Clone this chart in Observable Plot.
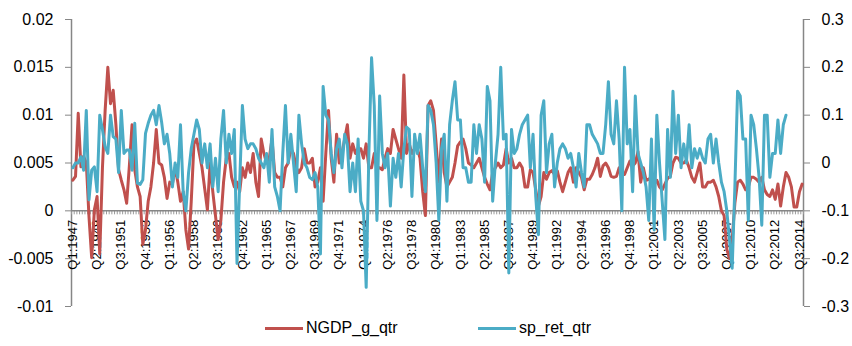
<!DOCTYPE html>
<html><head><meta charset="utf-8">
<script src="https://cdn.jsdelivr.net/npm/d3@7"></script>
<script src="https://cdn.jsdelivr.net/npm/@observablehq/plot@0.6"></script>
<style>
body{margin:0;background:#fff;font-family:"Liberation Sans",Arial,sans-serif;}
#legend{position:relative;height:30px;width:852px;font-size:16px;color:#000}
.item{position:absolute;top:0;display:flex;align-items:center;height:24px;white-space:nowrap}
.sw{display:inline-block;width:38px;height:3px;margin-right:3px}
</style></head><body><div id="chart"></div><div id="legend"></div>
<script>
// ---- data ----
const seriesNames = ["NGDP_g_qtr", "sp_ret_qtr"];
const ngdp = [
0.0032,0.0036,0.0102,0.0046,0.0057,0.005,-0.0006,-0.0049,0.0001,0.0015,
-0.0045,0.0045,0.0105,0.015,0.0112,0.0126,0.009,0.0043,0.0032,0.0022,
0.0008,0.0047,0.009,0.0043,0.0025,0.0015,-0.0035,-0.002,0.001,0.0025,
0.005,0.0085,0.005,0.0048,0.0035,0.0013,0.003,0.0028,0.0045,0.003,
0.001,0.002,-0.002,-0.004,0.001,0.007,0.0075,0.006,0.0045,0.0023,
0.0001,0.005,0.002,-0.0005,-0.003,-0.001,0.003,0.0055,0.006,0.0035,
0.0025,0.003,0.002,0.0045,0.0035,0.005,0.004,0.006,0.003,0.0015,
0.0075,0.006,0.005,0.0055,0.0075,0.004,0.0035,0.0035,0.0025,0.0045,
0.005,0.0065,0.006,0.0045,0.004,0.0045,0.0065,0.005,0.005,0.0055,
0.0025,0.003,0.0045,0.001,0.006,0.0105,0.0055,0.003,0.008,0.005,
0.006,0.0075,0.009,0.0055,0.007,0.006,0.0065,0.0065,0.0055,0.007,
0.0045,0.0045,0.006,0.0045,0.0045,0.0043,0.0055,0.0065,0.006,0.0085,
0.0075,0.0065,0.0055,0.0142,0.006,0.007,0.006,0.0065,0.0065,0.0055,
0.002,-0.0005,0.011,0.0115,0.0105,0.007,0.003,0.0075,0.004,0.0025,
0.003,0.0035,0.005,0.0068,0.0072,0.0075,0.0065,0.005,0.0048,0.0045,
0.005,0.0055,0.0045,0.0035,0.0028,0.0022,0.004,0.0045,0.005,0.0045,
0.0048,0.0065,0.005,0.0055,0.0045,0.0045,0.005,0.0045,0.0025,0.0025,
0.0043,0.004,0.0022,0.0005,0.0015,0.004,0.0033,0.004,0.0042,0.0038,
0.0042,0.003,0.002,0.003,0.004,0.0045,0.003,0.0045,0.004,0.0035,
0.0022,0.0033,0.0033,0.0038,0.0045,0.0055,0.0036,0.0047,0.005,0.0045,
0.0036,0.0035,0.0036,0.0045,0.004,0.0038,0.0045,0.0052,0.0047,0.005,
0.0062,0.003,0.0045,0.0032,0.0033,0.0035,0.0028,0.0032,0.0025,0.0022,
0.0028,0.0034,0.0036,0.005,0.0056,0.0055,0.005,0.005,0.0053,0.0045,
0.0035,0.003,0.004,0.005,0.0025,0.0025,0.003,0.003,0.0032,0.0025,
0.0015,0.0,-0.0005,-0.004,-0.005,-0.003,0.0008,0.003,0.0032,0.0028,
0.0022,0.0025,0.0035,0.0035,0.0033,0.003,0.0035,0.0022,0.0017,0.0015,
0.0022,0.0012,0.0028,0.0005,0.0025,0.004,0.0035,0.0025,0.0004,0.0004,
0.002,0.0028
];
const spRet = [
-0.01,0.0,0.0,0.013,-0.015,0.11,-0.077,-0.015,-0.008,-0.06,
0.1,0.07,0.034,0.02,0.1,0.055,0.05,-0.02,0.11,0.02,
0.027,0.027,-0.015,0.083,-0.042,-0.045,-0.035,0.062,0.083,0.1,
0.11,0.08,0.12,0.085,0.04,0.06,0.02,-0.05,0.0,-0.03,
0.08,-0.06,-0.1,-0.02,0.03,0.06,0.09,0.07,0.0,0.04,
-0.01,0.04,-0.05,0.01,-0.06,0.05,0.11,0.0,0.06,0.02,
0.07,-0.21,-0.04,0.12,0.05,0.03,0.04,0.04,0.03,0.01,
0.0,-0.01,0.02,-0.04,0.07,-0.05,-0.07,-0.1,0.02,0.12,
0.0,0.06,0.0,-0.06,0.1,0.04,0.0,-0.01,-0.03,-0.035,
-0.02,-0.05,-0.19,0.16,0.1,0.09,0.02,-0.02,0.03,0.05,
-0.01,0.06,0.04,-0.06,0.0,-0.06,0.05,-0.08,-0.1,-0.26,
0.02,0.22,0.12,-0.12,0.14,0.02,-0.01,0.02,-0.09,0.01,
-0.03,0.02,-0.05,0.03,0.075,0.07,-0.07,0.06,0.02,0.06,
-0.01,-0.06,0.12,0.11,0.08,0.0,-0.12,0.03,0.06,-0.08,
0.08,0.13,0.17,0.09,0.09,-0.01,-0.01,-0.04,-0.04,0.08,
0.02,0.08,0.05,-0.04,0.16,0.13,-0.08,0.0,0.06,0.2,
0.05,0.06,-0.23,0.07,0.02,0.03,0.06,0.08,0.09,0.1,
-0.01,0.06,-0.07,-0.15,0.1,0.13,-0.02,0.04,0.06,-0.05,
0.0,0.03,0.04,0.03,0.01,0.02,-0.01,-0.05,0.02,-0.02,
-0.05,0.08,0.08,0.06,0.05,0.04,0.02,0.02,0.08,0.17,
0.06,0.04,0.13,0.05,-0.1,0.2,0.04,0.07,-0.06,0.14,
0.02,0.0,-0.02,-0.05,-0.12,0.05,-0.14,0.1,0.0,-0.08,
-0.16,0.07,-0.03,0.15,0.02,0.1,-0.01,0.04,0.0,0.08,
-0.01,0.03,0.01,0.03,0.01,0.0,0.05,0.06,0.0,0.05,
0.0,-0.04,-0.06,-0.1,-0.16,-0.22,-0.05,0.15,0.14,0.05,
0.05,-0.12,0.1,0.08,0.03,-0.03,-0.13,0.1,0.1,-0.03,
0.02,0.02,0.09,0.02,0.08,0.1,null,null,null,null,
null,null
];
const xTickLabels = ["Q1:1947","Q2:1949","Q3:1951","Q4:1953","Q1:1956","Q2:1958","Q3:1960","Q4:1962",
"Q1:1965","Q2:1967","Q3:1969","Q4:1971","Q1:1974","Q2:1976","Q3:1978","Q4:1980","Q1:1983","Q2:1985",
"Q3:1987","Q4:1989","Q1:1992","Q2:1994","Q3:1996","Q4:1998","Q1:2001","Q2:2003","Q3:2005","Q4:2007",
"Q1:2010","Q2:2012","Q3:2014"];
const leftDomain = [-0.01, 0.02];
const rightDomain = [-0.3, 0.3];
const leftTicks = [-0.01, -0.005, 0, 0.005, 0.01, 0.015, 0.02];
const rightTicks = [-0.3, -0.2, -0.1, 0, 0.1, 0.2, 0.3];
const colors = ["#C0504D", "#4BACC6"];

// ---- build ----
const categories = [];
for (let y = 1947; categories.length < ngdp.length; y++)
  for (let q = 1; q <= 4 && categories.length < ngdp.length; q++) categories.push(`Q${q}:${y}`);
const n = categories.length;
const xDomain = [-0.5, n - 0.5];
const boundaries = d3.range(n + 1).map(i => i - 0.5);
const toLeft = d3.scaleLinear().domain(rightDomain).range(leftDomain);
const labelData = xTickLabels.map(l => ({x: categories.indexOf(l), label: l}));
const redData = ngdp.map((v, i) => ({x: i, y: v}));
const blueData = spRet.map((v, i) => ({x: i, y: v == null ? NaN : toLeft(v)}));
const axisGrey = "#868686";

const chart = Plot.plot({
  width: 852, height: 316,
  marginLeft: 71, marginRight: 49, marginTop: 19, marginBottom: 10,
  x: {type: "linear", domain: xDomain, axis: null},
  y: {domain: leftDomain},
  style: {fontFamily: "'Liberation Sans', Arial, sans-serif", fontSize: "16px", color: "#000", background: "#fff", overflow: "visible"},
  marks: [
    Plot.ruleX(xDomain, {stroke: axisGrey, strokeWidth: 1.5}),
    Plot.axisY({anchor: "left", ticks: leftTicks, tickFormat: d => String(d), tickSize: 6, tickPadding: 12,
      fontSize: 16, stroke: axisGrey, fill: "#000", label: null}),
    Plot.axisY({anchor: "right", ticks: rightTicks.map(toLeft), tickFormat: d => String(+toLeft.invert(d).toFixed(1)),
      tickSize: 6, tickPadding: 12, fontSize: 16, stroke: axisGrey, fill: "#000", label: null}),
    Plot.ruleX(boundaries, {x: d => d, y1: 0, y2: 0, insetBottom: -4, stroke: "#9a9a9a", strokeWidth: 1}),
    Plot.ruleY([0], {stroke: axisGrey, strokeWidth: 1.5}),
    Plot.text(labelData, {x: "x", y: 0, text: "label", rotate: -90, textAnchor: "end", dy: 9, fontSize: 13, fill: "#000"}),
    Plot.line(redData, {x: "x", y: "y", stroke: colors[0], strokeWidth: 3, strokeLinejoin: "round", strokeLinecap: "round"}),
    Plot.line(blueData, {x: "x", y: "y", stroke: colors[1], strokeWidth: 3, strokeLinejoin: "round", strokeLinecap: "round"})
  ]
});
document.getElementById("chart").appendChild(chart);

const legend = document.getElementById("legend");
const lefts = [265, 478];
seriesNames.forEach((name, i) => {
  const it = document.createElement("div");
  it.className = "item";
  it.style.left = lefts[i] + "px";
  it.innerHTML = `<span class="sw" style="background:${colors[i]}"></span><span>${name}</span>`;
  legend.appendChild(it);
});
</script></body></html>
